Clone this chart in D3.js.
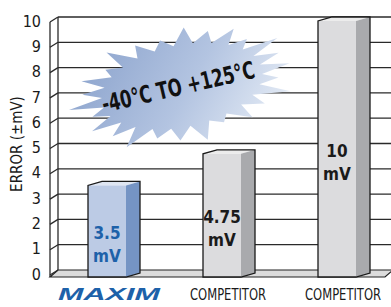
<!DOCTYPE html>
<html>
<head>
<meta charset="utf-8">
<script src="https://cdn.jsdelivr.net/npm/d3@7"></script>
<style>
  body { margin: 0; background: #fff; }
  svg { display: block; }
</style>
</head>
<body>
<svg id="chart" width="391" height="307"></svg>
<script>
// data
var categories = ['MAXIM', 'COMPETITOR A', 'COMPETITOR B'];
var xLabels = ['MAXIM', 'COMPETITOR', 'COMPETITOR'];
var values = [3.5, 4.75, 10];
var valueLabels = ['3.5', '4.75', '10'];
var yTicks = [0, 1, 2, 3, 4, 5, 6, 7, 8, 9, 10];
var yTitle = 'ERROR (\u00B1mV)';
var burstText = '-40\u00B0C TO +125\u00B0C';

var NARROW = '"Liberation Sans Narrow", "Arial Narrow", "DejaVu Sans Condensed", sans-serif';
var BLUE = '#1d61a9';

var svg = d3.select('#chart');

var y = d3.scaleLinear().domain([0, 10]).range([270, 17]);
var x = d3.scalePoint().domain(categories).range([114, 344]);

var wallX = 58, wallDx = 8, wallDy = 5;   // side wall depth
var floorDy = 7, rightEnd = 391;
var barW = 38, barDx = 14, barDy = 4;
var floorFront = y(0) + floorDy;

// stretch/squeeze a text horizontally to a given width
function fitWidth(sel, cx, cy, w) {
  var nat = sel.node().getComputedTextLength();
  sel.attr('text-anchor', 'middle')
    .attr('transform', 'translate(' + cx + ',' + cy + ') scale(' + (w / nat) + ',1)');
}

// floor
svg.append('path')
  .attr('d', 'M' + (wallX - wallDx) + ',' + floorFront + 'L' + wallX + ',' + y(0) +
             'L' + (rightEnd + 2) + ',' + y(0) + 'L' + (rightEnd - 6) + ',' + floorFront + 'Z')
  .attr('fill', '#dcdcdc')
  .attr('stroke', '#222')
  .attr('stroke-width', 1.2);

// grid lines and side wall slants
var grid = svg.append('g').attr('stroke', '#2a2a2a').attr('stroke-width', 1.3);
grid.selectAll('.h').data(yTicks.filter(function(d) { return d > 0; }))
  .enter().append('line')
  .attr('x1', wallX).attr('x2', rightEnd)
  .attr('y1', function(d) { return y(d); })
  .attr('y2', function(d) { return y(d); });
grid.selectAll('.s').data(yTicks)
  .enter().append('line')
  .attr('x1', wallX - wallDx).attr('x2', wallX)
  .attr('y1', function(d) { return y(d) + wallDy; })
  .attr('y2', function(d) { return y(d); });
grid.append('line')
  .attr('x1', wallX).attr('x2', wallX)
  .attr('y1', y(10)).attr('y2', y(0));
grid.append('line')
  .attr('x1', wallX - wallDx).attr('x2', wallX - wallDx)
  .attr('y1', y(10) + wallDy).attr('y2', floorFront);

// starburst
var defs = svg.append('defs');
var grad = defs.append('linearGradient').attr('id', 'burstFill')
  .attr('x1', '0').attr('y1', '0.3').attr('x2', '1').attr('y2', '0.6');
grad.append('stop').attr('offset', '0%').attr('stop-color', '#8aa2cc');
grad.append('stop').attr('offset', '55%').attr('stop-color', '#b3c4e1');
grad.append('stop').attr('offset', '100%').attr('stop-color', '#e4ebf5');

var spikes = [1.0, 0.9, 1.08, 0.94, 1.0, 0.86, 1.06, 0.97, 0.9, 1.07, 0.95, 1.0, 0.88,
              1.05, 0.93, 1.0, 0.87, 1.07, 0.96, 0.9, 1.04, 0.94, 1.0, 0.89, 1.06, 0.95];
var bcx = 182, bcy = 86, brx = 110, bry = 55, inner = 0.74, rot = -12 * Math.PI / 180;
var burstPts = [];
spikes.forEach(function(f, i) {
  var n = spikes.length;
  [[i * 2, f], [i * 2 + 1, inner]].forEach(function(p) {
    var a = p[0] * Math.PI / n;
    var px = brx * p[1] * Math.cos(a), py = bry * p[1] * Math.sin(a);
    burstPts.push([bcx + px * Math.cos(rot) - py * Math.sin(rot),
                   bcy + px * Math.sin(rot) + py * Math.cos(rot)]);
  });
});
svg.append('path')
  .attr('d', d3.line()(burstPts) + 'Z')
  .attr('fill', 'url(#burstFill)');
svg.append('text')
  .attr('transform', 'translate(' + (bcx - 2) + ',' + (bcy + 9) + ') rotate(-13)')
  .attr('text-anchor', 'middle')
  .attr('font-family', NARROW)
  .attr('font-weight', 'bold')
  .attr('font-size', 24)
  .attr('textLength', 156)
  .attr('lengthAdjust', 'spacingAndGlyphs')
  .attr('fill', '#111')
  .text(burstText);

// bars
var bars = svg.selectAll('.bar').data(values).enter().append('g').attr('class', 'bar');
function face(pts) { return d3.line()(pts) + 'Z'; }
bars.each(function(v, i) {
  var g = d3.select(this);
  var x0 = x(categories[i]) - 26, x1 = x0 + barW;
  var top = y(v) + barDy, bot = floorFront;
  var isMaxim = i === 0;
  g.append('path')
    .attr('d', face([[x0, top], [x0 + barDx, top - barDy], [x1 + barDx, top - barDy], [x1, top]]))
    .attr('fill', isMaxim ? '#dfe6f2' : '#ececec');
  g.append('path')
    .attr('d', face([[x1, top], [x1 + barDx, top - barDy], [x1 + barDx, bot - barDy], [x1, bot]]))
    .attr('fill', isMaxim ? '#7594c4' : '#a9aaad');
  g.append('rect')
    .attr('x', x0).attr('y', top).attr('width', barW).attr('height', bot - top)
    .attr('fill', isMaxim ? '#bccbe5' : '#dcdcde');
  g.append('path')
    .attr('d', 'M' + x0 + ',' + bot + 'L' + x0 + ',' + top + 'L' + (x0 + barDx) + ',' + (top - barDy) +
               'L' + (x1 + barDx) + ',' + (top - barDy) + 'L' + (x1 + barDx) + ',' + (bot - barDy) +
               'L' + x1 + ',' + bot + 'Z')
    .attr('fill', 'none').attr('stroke', '#1a1a1a').attr('stroke-width', 1.3);

  var mid = (top + bot) / 2 + 13;
  var lbl = g.append('text')
    .attr('text-anchor', 'middle')
    .attr('font-family', NARROW)
    .attr('font-weight', 'bold')
    .attr('font-size', 17)
    .attr('fill', isMaxim ? BLUE : '#1a1a1a');
  lbl.append('tspan').attr('x', x0 + barW / 2).attr('y', mid - 5).text(valueLabels[i]);
  lbl.append('tspan').attr('x', x0 + barW / 2).attr('y', mid + 18).text('mV');
});

// y axis tick labels
var yAxis = svg.append('g')
  .attr('transform', 'translate(41,' + (wallDy - 1) + ')')
  .call(d3.axisLeft(y).tickValues(yTicks).tickSize(0).tickPadding(0));
yAxis.select('.domain').remove();
yAxis.selectAll('text')
  .attr('font-family', NARROW)
  .attr('font-size', 16)
  .attr('fill', '#1a1a1a');

svg.append('text')
  .attr('transform', 'translate(22,144) rotate(-90)')
  .attr('text-anchor', 'middle')
  .attr('font-family', NARROW)
  .attr('font-size', 15)
  .attr('fill', '#1a1a1a')
  .text(yTitle);

// category labels
svg.selectAll('.xl').data(xLabels).enter().append('text')
  .attr('class', 'xl')
  .attr('font-family', function(d, i) { return i === 0 ? '"Liberation Sans", Arial, sans-serif' : NARROW; })
  .attr('font-weight', function(d, i) { return i === 0 ? 'bold' : 'normal'; })
  .attr('font-style', function(d, i) { return i === 0 ? 'italic' : 'normal'; })
  .attr('font-size', 16)
  .attr('fill', function(d, i) { return i === 0 ? BLUE : '#1a1a1a'; })
  .text(function(d) { return d; })
  .each(function(d, i) {
    if (i === 0) fitWidth(d3.select(this), 109, 300, 102);
    else fitWidth(d3.select(this), x(categories[i]) - 1, 300, 76);
  });
</script>
</body>
</html>
